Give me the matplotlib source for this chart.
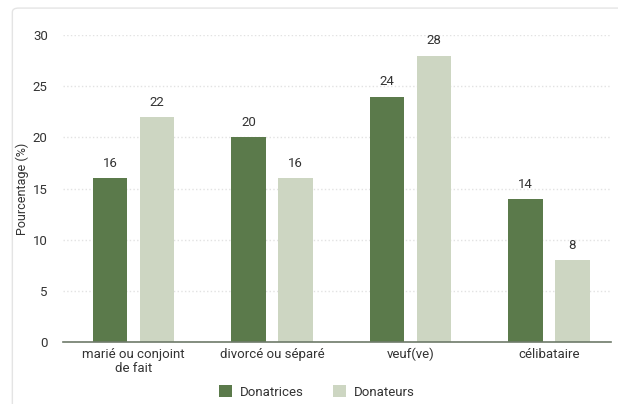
import matplotlib.pyplot as plt
import numpy as np
from matplotlib.patches import FancyBboxPatch

plt.rcParams['font.family'] = ['Roboto', 'DejaVu Sans']

categories = ['marié ou conjoint\nde fait', 'divorcé ou séparé', 'veuf(ve)', 'célibataire']
donatrices = [16, 20, 24, 14]
donateurs = [22, 16, 28, 8]
yticks = [0, 5, 10, 15, 20, 25, 30]

dark = '#5b7a4b'
light = '#cdd6c2'
text_col = '#333333'

fig = plt.figure(figsize=(6.18, 4.04), dpi=100)
frame = FancyBboxPatch((0.02, -0.05), 1.05, 1.03, boxstyle='round,pad=0,rounding_size=0.01',
                       transform=fig.transFigure, facecolor='none', edgecolor='#e4e4e4', lw=1.0, zorder=-5)
fig.patches.append(frame)

ax = fig.add_axes([0.102, 0.153, 0.887, 0.76])
ax.patch.set_alpha(0)
x = np.arange(len(categories))
w = 0.25
off = 0.17
b1 = ax.bar(x - off, donatrices, w, color=dark, label='Donatrices', zorder=3)
b2 = ax.bar(x + off, donateurs, w, color=light, label='Donateurs', zorder=3)

for bars in (b1, b2):
    for b in bars:
        ax.text(b.get_x() + b.get_width() / 2, b.get_height() + 0.8, f'{b.get_height():g}',
                ha='center', va='bottom', fontsize=9.5, color=text_col)

ax.set_ylim(0, 30)
ax.set_xlim(-0.51, 3.45)
ax.set_yticks(yticks)
ax.set_xticks(x)
ax.set_xticklabels(categories, fontsize=9.5, color=text_col, linespacing=1.1)
ax.tick_params(axis='y', length=0, labelsize=9.5, labelcolor=text_col, pad=11)
ax.tick_params(axis='x', length=0, pad=4)
ax.grid(axis='y', color='#e2e2e2', linestyle=':', linewidth=1, zorder=0)
for s in ['top', 'right', 'left']:
    ax.spines[s].set_visible(False)
ax.spines['bottom'].set_color('#6e7a6a')
ax.spines['bottom'].set_linewidth(1.2)
ax.spines['bottom'].set_zorder(4)
ax.set_ylabel('Pourcentage (%)', fontsize=9, color=text_col, labelpad=3)

fig.legend(handles=[b1, b2], loc='center', bbox_to_anchor=(0.513, 0.03), ncol=2, frameon=False,
           fontsize=9.5, handlelength=1.0, handleheight=1.0, handletextpad=0.6,
           columnspacing=2.2, labelcolor=text_col)

fig.savefig('out.png', dpi=100)
